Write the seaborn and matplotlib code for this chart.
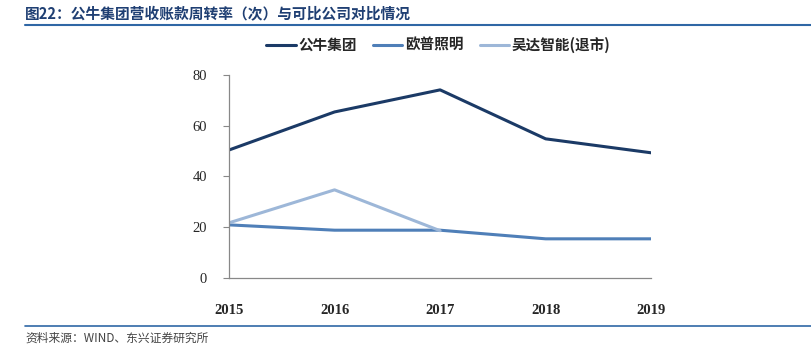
import matplotlib
matplotlib.use("Agg")
import matplotlib.pyplot as plt
import seaborn as sns
import pandas as pd

years = ["2015", "2016", "2017", "2018", "2019"]
gongniu = [50.4, 65.4, 74.1, 54.8, 49.3]
oupu = [20.9, 18.8, 18.8, 15.4, 15.4]
wuda = [21.7, 34.7, 18.6, None, None]
series_names = ["公牛集团", "欧普照明", "吴达智能(退市)"]
colors = ["#1b3a66", "#4f7fb8", "#9db7d8"]
yticks = [0, 20, 40, 60, 80]

sns.set_theme(style="white")
plt.rcParams['font.family'] = ['Noto Sans CJK SC', 'DejaVu Sans']

rows = []
for name, vals in zip(series_names, [gongniu, oupu, wuda]):
    for i, (y, v) in enumerate(zip(years, vals)):
        if v is not None:
            rows.append({"idx": i, "year": y, "value": v, "series": name})
df = pd.DataFrame(rows)

fig = plt.figure(figsize=(8.12, 3.5), dpi=100)
ax = fig.add_axes([0.282, 0.206, 0.520, 0.580])
sns.lineplot(data=df, x="idx", y="value", hue="series", hue_order=series_names,
             palette=colors, linewidth=2.2, ax=ax, legend=False, sort=False)

ax.set_xlim(0, len(years) - 1)
ax.set_ylim(0, 80)
ax.set_yticks(yticks)
ax.set_yticklabels([str(t) for t in yticks], family="Liberation Serif", fontsize=10.5)
ax.set_xticks(range(len(years)))
ax.set_xticklabels(years, family="Liberation Serif", fontweight="bold", fontsize=10.5)
ax.tick_params(axis="y", which="both", left=True, length=4, width=0.8, color="#888888", pad=12)
ax.tick_params(axis="x", bottom=False, pad=13)
ax.set_xlabel("")
ax.set_ylabel("")
for s in ["top", "right"]:
    ax.spines[s].set_visible(False)
for s in ["left", "bottom"]:
    ax.spines[s].set_color("#888888")
    ax.spines[s].set_linewidth(0.9)

from matplotlib.lines import Line2D
handles = [Line2D([0], [0], color=c, lw=2.2) for c in colors]
fig.legend(handles, series_names, loc="center", bbox_to_anchor=(0.54, 0.872), ncol=3,
           frameon=False, handlelength=2.0, columnspacing=1.1, handletextpad=0.2,
           prop={"family": ['Noto Sans CJK SC', 'DejaVu Sans'], "weight": "bold", "size": 10.5})

fig.text(0.031, 0.962, "图22：公牛集团营收账款周转率（次）与可比公司对比情况", fontsize=10.6,
         fontweight="bold", color="#1f3f73", ha="left", va="center")
fig.add_artist(Line2D([0.031, 1.0], [0.928, 0.928], color="#2f67a5", lw=1.5, transform=fig.transFigure))
fig.add_artist(Line2D([0.031, 1.0], [0.068, 0.068], color="#2f67a5", lw=1.2, transform=fig.transFigure))
fig.text(0.031, 0.033, "资料来源：WIND、东兴证券研究所", fontsize=8.5, style="italic",
         color="#444444", ha="left", va="center")

fig.savefig("out.png", dpi=100)
